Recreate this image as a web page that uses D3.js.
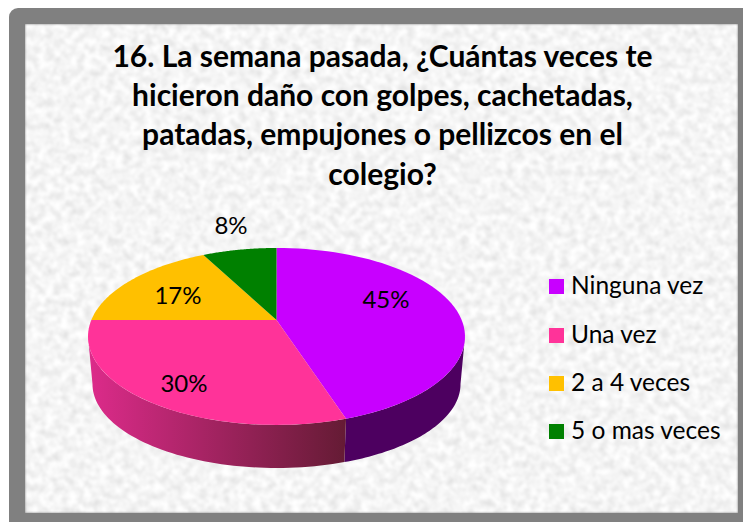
<!DOCTYPE html>
<html><head><meta charset="utf-8">
<script src="https://cdnjs.cloudflare.com/ajax/libs/d3/7.8.5/d3.min.js"></script>
<style>html,body{margin:0;padding:0;background:#fff}svg{display:block}text{font-family:Lato,"Open Sans",sans-serif;fill:#000}</style>
</head><body><svg id="c" width="743" height="522"></svg>
<script>
const titleLines = ["16. La semana pasada, ¿Cuántas veces te","hicieron daño con golpes, cachetadas,","patadas, empujones o pellizcos en el","colegio?"];
const categories = ["Ninguna vez","Una vez","2 a 4 veces","5 o mas veces"];
const values = [45,30,17.4,7.6];
const colors = ["#c800ff","#ff3399","#ffc000","#008000"];

const svg = d3.select("#c");
const defs = svg.append("defs");
const paper = defs.append("filter").attr("id","paper").attr("x",0).attr("y",0).attr("width","100%").attr("height","100%");
paper.append("feTurbulence").attr("type","fractalNoise").attr("baseFrequency",0.13).attr("numOctaves",3).attr("seed",7);
paper.append("feColorMatrix").attr("type","matrix").attr("values","0.42 0 0 0 0.70  0.42 0 0 0 0.70  0.42 0 0 0 0.70  0 0 0 0 1");
paper.append("feGaussianBlur").attr("stdDeviation",1);
const grad = defs.append("linearGradient").attr("id","wall").attr("gradientUnits","userSpaceOnUse").attr("x1",90).attr("x2",347).attr("y1",0).attr("y2",0);
grad.append("stop").attr("offset",0).attr("stop-color","#dc2b8a");
grad.append("stop").attr("offset",1).attr("stop-color","#641b34");

svg.append("rect").attr("x",9).attr("y",8).attr("width",760).attr("height",540).attr("rx",9).attr("fill","#808080");
svg.append("rect").attr("x",25).attr("y",24).attr("width",713).attr("height",489).attr("fill","#e9e9e9").attr("filter","url(#paper)");

svg.append("g").selectAll("text").data(titleLines).join("text")
  .attr("x",382.5).attr("y",(d,i)=>[67,106,145,185][i]).attr("text-anchor","middle")
  .attr("font-size",30).attr("font-weight",700).text(d=>d);

const color = d3.scaleOrdinal(categories,colors);
const pie = d3.pie().sort(null).value((d,i)=>values[i]);
const arcs = pie(categories);

// perspective projection of the disc: angle is clockwise from the top
const persp = 0.186, cx = 276.5;
const project = (Rx,A,cy) => (t,r=1) => {
  const u = Math.sin(t)*r, v = -Math.cos(t)*r, w = 1-persp*v;
  return [cx+Rx*u/w, cy+A*v/w];
};
const topFace = project(185.2,85.4,320), lowFace = project(180.8,81,368.5);
const edge = Math.PI/2+Math.asin(persp);
const sample = (a,b) => d3.range(0,61).map(i=>a+(b-a)*i/60);
const pathLine = d3.line();

// visible side walls, clipped to the disc silhouette
const wallFill = ["#4d0060","url(#wall)"];
[arcs[0],arcs[1]].forEach((d,i)=>{
  const a = Math.max(d.startAngle,edge), b = Math.min(d.endAngle,2*Math.PI-edge);
  const ts = sample(a,b);
  svg.append("path").attr("fill",wallFill[i])
    .attr("d",pathLine(ts.map(t=>topFace(t)).concat(ts.slice().reverse().map(t=>lowFace(t))))+"Z");
});
// top faces
svg.append("g").selectAll("path").data(arcs).join("path")
  .attr("fill",d=>color(d.data))
  .attr("d",d=>pathLine([topFace(0,0)].concat(sample(d.startAngle,d.endAngle).map(t=>topFace(t))))+"Z");

// value labels
const labelPos = [[386,308],[184,392],[178,304],[231,234]];
svg.append("g").selectAll("text").data(arcs).join("text")
  .attr("x",(d,i)=>labelPos[i][0]).attr("y",(d,i)=>labelPos[i][1]).attr("text-anchor","middle")
  .attr("font-size",24).text(d=>d3.format(".0f")(d.value)+"%");

// legend
const legendY = d3.scaleOrdinal(categories,[294,343,391,439]);
const legendRows = svg.append("g").selectAll("g").data(categories).join("g");
legendRows.append("rect").attr("x",549).attr("y",d=>legendY(d)-15).attr("width",15).attr("height",15).attr("fill",d=>color(d));
legendRows.append("text").attr("x",571).attr("y",d=>legendY(d)).attr("font-size",24.5).text(d=>d);
</script></body></html>
